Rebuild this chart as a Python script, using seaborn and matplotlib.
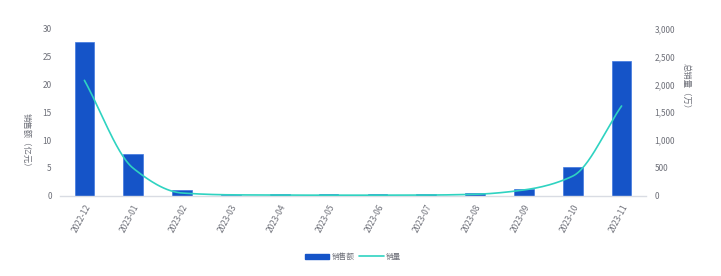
import numpy as np
import pandas as pd
import matplotlib
matplotlib.use("Agg")
import matplotlib.pyplot as plt
import seaborn as sns
from matplotlib.patches import Patch
from matplotlib.lines import Line2D
from matplotlib.ticker import FuncFormatter, MultipleLocator

months = ["2022-12", "2023-01", "2023-02", "2023-03", "2023-04", "2023-05",
          "2023-06", "2023-07", "2023-08", "2023-09", "2023-10", "2023-11"]
sales_amount = [27.6, 7.5, 1.0, 0.03, 0.2, 0.2, 0.2, 0.2, 0.4, 1.1, 5.1, 24.2]   # 亿元
sales_volume = [2075, 490, 45, 12, 8, 6, 6, 8, 22, 100, 350, 1613]               # 万

sns.set_theme(style="white")
plt.rcParams['font.family'] = ['Noto Sans CJK SC', 'DejaVu Sans']

BAR = "#1554c8"
LINE = "#2fd3c1"
TXT = "#6e7079"
AXIS = "#d9dce3"

fig = plt.figure(figsize=(7.21, 2.76), dpi=100)
ax = fig.add_axes([60/721, 80.5/276, 586/721, 166.5/276])

df = pd.DataFrame({"month": months, "amount": sales_amount, "volume": sales_volume})
sns.barplot(data=df, x="month", y="amount", color=BAR, saturation=1, width=0.4,
            ax=ax, edgecolor="#3f78e0", linewidth=0.5)
ax.set_xlim(-0.5, len(months) - 0.5)
ax.set_ylim(0, 30)
ax.yaxis.set_major_locator(MultipleLocator(5))

# smooth line on right axis (monotone cubic between data points)
ax2 = ax.twinx()
x = np.arange(len(months), dtype=float)
y = np.array(sales_volume, dtype=float)
h = np.diff(x)
d = np.diff(y) / h
m = np.zeros_like(y)
m[0], m[-1] = d[0], d[-1]
for i in range(1, len(y) - 1):
    if d[i-1] * d[i] > 0:
        w1 = 2*h[i] + h[i-1]
        w2 = h[i] + 2*h[i-1]
        m[i] = (w1 + w2) / (w1/d[i-1] + w2/d[i])
xs, ys = [], []
for i in range(len(x) - 1):
    t = np.linspace(0, 1, 30)
    h00 = 2*t**3 - 3*t**2 + 1
    h10 = t**3 - 2*t**2 + t
    h01 = -2*t**3 + 3*t**2
    h11 = t**3 - t**2
    xs.append(x[i] + t*h[i])
    ys.append(h00*y[i] + h10*h[i]*m[i] + h01*y[i+1] + h11*h[i]*m[i+1])
smooth = pd.DataFrame({"x": np.concatenate(xs), "y": np.concatenate(ys)})
sns.lineplot(data=smooth, x="x", y="y", color=LINE, linewidth=1.2, ax=ax2, sort=False)
ax2.set_ylim(0, 3000)
ax2.yaxis.set_major_locator(MultipleLocator(500))
ax2.yaxis.set_major_formatter(FuncFormatter(lambda v, p: f"{int(v):,}"))
ax2.set_xlim(-0.5, len(months) - 0.5)

for a in (ax, ax2):
    for s in a.spines.values():
        s.set_visible(False)
    a.grid(False)
ax.spines["bottom"].set_visible(True)
ax.spines["bottom"].set_color(AXIS)
ax.spines["bottom"].set_linewidth(1.0)

ax.tick_params(axis="y", length=0, pad=6, labelsize=6, labelcolor=TXT)
ax2.tick_params(axis="y", length=0, pad=6, labelsize=6, labelcolor=TXT)
ax.tick_params(axis="x", length=0, pad=5, labelsize=6, labelcolor=TXT)
for lbl in ax.get_xticklabels():
    lbl.set_rotation(62)
    lbl.set_ha("right")
    lbl.set_va("top")
    lbl.set_rotation_mode("anchor")

ax.set_xlabel("")
ax.set_ylabel("销售额（亿元）", rotation=-90, fontsize=6, color=TXT, va="center", ha="center")
ax.yaxis.set_label_coords(-34/586, 0.32)
ax2.set_ylabel("总销量（万）", rotation=-90, fontsize=6, color=TXT, va="center", ha="center")
ax2.yaxis.set_label_coords(1 + 40/586, 0.645)

handles = [Patch(facecolor=BAR, edgecolor=BAR), Line2D([0], [0], color=LINE, linewidth=1.2)]
fig.legend(handles, ["销售额", "销量"], loc="center", bbox_to_anchor=(353/721, 1 - 257/276),
           ncol=2, frameon=False, fontsize=5.5, labelcolor=TXT, handlelength=3.2,
           handleheight=0.6, handletextpad=0.3, columnspacing=0.6)

fig.savefig("out.png", dpi=100)
